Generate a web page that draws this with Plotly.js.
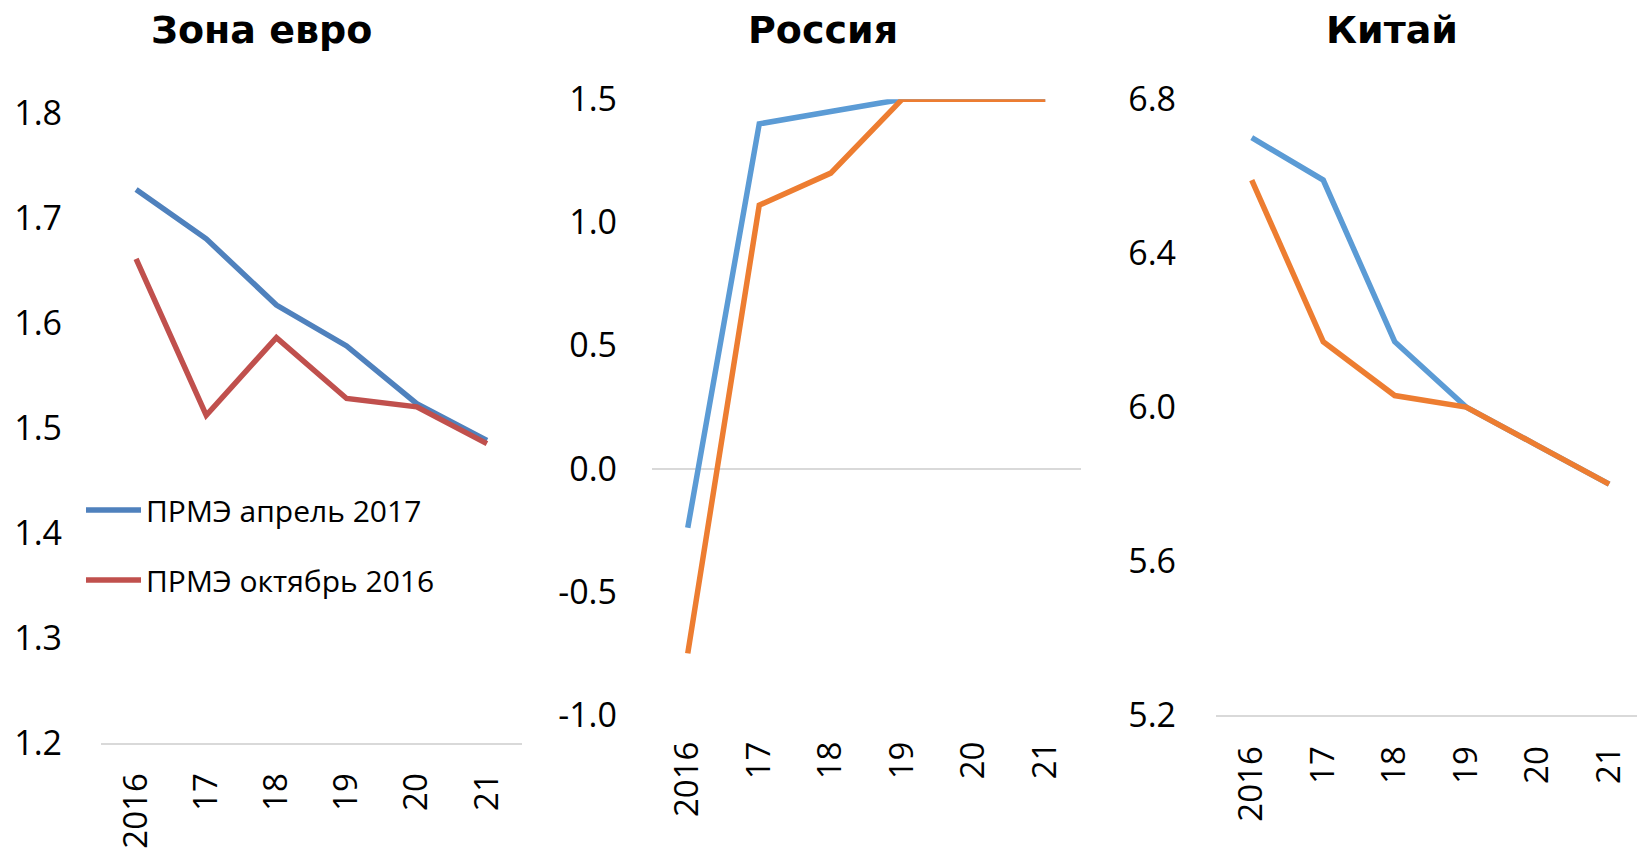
<!DOCTYPE html>
<html>
<head>
<meta charset="utf-8">
<script src="https://cdn.plot.ly/plotly-3.0.1.min.js"></script>
<style>html,body{margin:0;padding:0;background:#fff;}#chart{width:1637px;height:850px;}</style>
</head>
<body>
<div id="chart"></div>
<script>
// ---- data ----
const years = ["2016", "17", "18", "19", "20", "21"];
const seriesNames = ["ПРМЭ апрель 2017", "ПРМЭ октябрь 2016"];
const panelTitles = ["Зона евро", "Россия", "Китай"];

const euroApr2017 = [1.727, 1.68, 1.617, 1.578, 1.523, 1.488];
const euroOct2016 = [1.661, 1.512, 1.586, 1.528, 1.52, 1.485];

const russiaApr2017 = [-0.24, 1.4, 1.45, 1.5, 1.5, 1.5];
const russiaOct2016 = [-0.75, 1.07, 1.2, 1.5, 1.5, 1.5];

const chinaApr2017 = [6.7, 6.59, 6.17, 6.0, 5.9, 5.8];
const chinaOct2016 = [6.59, 6.17, 6.03, 6.0, 5.9, 5.8];

const euroTicks = [1.2, 1.3, 1.4, 1.5, 1.6, 1.7, 1.8];
const euroTickText = ["1.2", "1.3", "1.4", "1.5", "1.6", "1.7", "1.8"];
const russiaTicks = [-1.0, -0.5, 0.0, 0.5, 1.0, 1.5];
const russiaTickText = ["-1.0", "-0.5", "0.0", "0.5", "1.0", "1.5"];
const chinaTicks = [5.2, 5.6, 6.0, 6.4, 6.8];
const chinaTickText = ["5.2", "5.6", "6.0", "6.4", "6.8"];

// ---- styles ----
const W = 1637, H = 850;
const tickFont = {family: "Open Sans, sans-serif", size: 34, color: "#000"};
const xTickFont = {family: "Open Sans, sans-serif", size: 33, color: "#000"};
const lw = 5.5;
const cEuroBlue = "#4F81BD", cEuroRed = "#C0504D";
const cBlue = "#5B9BD5", cOrange = "#ED7D31";
const axisGrey = "#D9D9D9";

function px2x(p) { return p / W; }
function px2y(p) { return 1 - p / H; }

const traces = [
  {x: years, y: euroApr2017, xaxis: "x", yaxis: "y", name: seriesNames[0], mode: "lines",
   line: {color: cEuroBlue, width: lw}, legendgroup: "a"},
  {x: years, y: euroOct2016, xaxis: "x", yaxis: "y", name: seriesNames[1], mode: "lines",
   line: {color: cEuroRed, width: lw}, legendgroup: "b"},
  {x: years, y: russiaApr2017, xaxis: "x2", yaxis: "y2", name: seriesNames[0], mode: "lines",
   line: {color: cBlue, width: lw}, showlegend: false},
  {x: years, y: russiaOct2016, xaxis: "x2", yaxis: "y2", name: seriesNames[1], mode: "lines",
   line: {color: cOrange, width: lw}, showlegend: false},
  {x: years, y: chinaApr2017, xaxis: "x3", yaxis: "y3", name: seriesNames[0], mode: "lines",
   line: {color: cBlue, width: lw}, showlegend: false},
  {x: years, y: chinaOct2016, xaxis: "x3", yaxis: "y3", name: seriesNames[1], mode: "lines",
   line: {color: cOrange, width: lw}, showlegend: false}
];

function xAxis(domain, range, showline, anchor, standoff) {
  return {
    type: "category", domain: domain, range: range, fixedrange: true, anchor: anchor,
    showgrid: false, zeroline: false, showline: showline, linecolor: axisGrey, linewidth: 2,
    ticks: "", tickangle: -90, tickfont: xTickFont, ticklabelstandoff: standoff,
    automargin: false
  };
}
function yAxis(domain, range, vals, text, anchor, zero, standoff) {
  return {
    domain: domain, range: range, fixedrange: true, anchor: anchor,
    showgrid: false, showline: false, zeroline: zero, zerolinecolor: axisGrey, zerolinewidth: 2,
    tickmode: "array", tickvals: vals, ticktext: text, ticks: "",
    tickfont: tickFont, ticklabelstandoff: standoff, automargin: false
  };
}

const yDomEuro = [px2y(743), px2y(112.8)];
const yDomOther = [px2y(715), px2y(99.2)];
const titleFont = {family: "DejaVu Sans, sans-serif", size: 38, color: "#000"};

const layout = {
  width: W, height: H,
  margin: {l: 0, r: 0, t: 0, b: 0},
  paper_bgcolor: "#fff", plot_bgcolor: "rgba(0,0,0,0)",
  showlegend: true,
  legend: {
    x: px2x(81), y: px2y(484), xanchor: "left", yanchor: "top",
    font: {family: "Open Sans, sans-serif", size: 30, color: "#000"},
    bgcolor: "rgba(0,0,0,0)", itemwidth: 55, tracegroupgap: 28, traceorder: "grouped",
    itemclick: false, itemdoubleclick: false
  },
  xaxis: xAxis([px2x(101), px2x(522)], [-0.5, 5.5], true, "y", 15),
  yaxis: yAxis(yDomEuro, [1.2, 1.8], euroTicks, euroTickText, "x", false, 38),
  xaxis2: xAxis([px2x(652), px2x(1081)], [-0.5, 5.5], false, "y2", 19),
  yaxis2: yAxis(yDomOther, [-1.0, 1.5], russiaTicks, russiaTickText, "x2", true, 34),
  xaxis3: xAxis([px2x(1216), 1], [-0.5, 5.39], true, "y3", 16),
  yaxis3: yAxis(yDomOther, [5.2, 6.8], chinaTicks, chinaTickText, "x3", false, 39),
  annotations: [
    {text: "<b>" + panelTitles[0] + "</b>", xref: "paper", yref: "paper", x: px2x(261), y: px2y(30),
     xanchor: "center", yanchor: "middle", showarrow: false, font: titleFont},
    {text: "<b>" + panelTitles[1] + "</b>", xref: "paper", yref: "paper", x: px2x(823), y: px2y(30),
     xanchor: "center", yanchor: "middle", showarrow: false, font: titleFont},
    {text: "<b>" + panelTitles[2] + "</b>", xref: "paper", yref: "paper", x: px2x(1392), y: px2y(30),
     xanchor: "center", yanchor: "middle", showarrow: false, font: titleFont}
  ]
};

Plotly.newPlot("chart", traces, layout, {displayModeBar: false, staticPlot: true});
</script>
</body>
</html>
